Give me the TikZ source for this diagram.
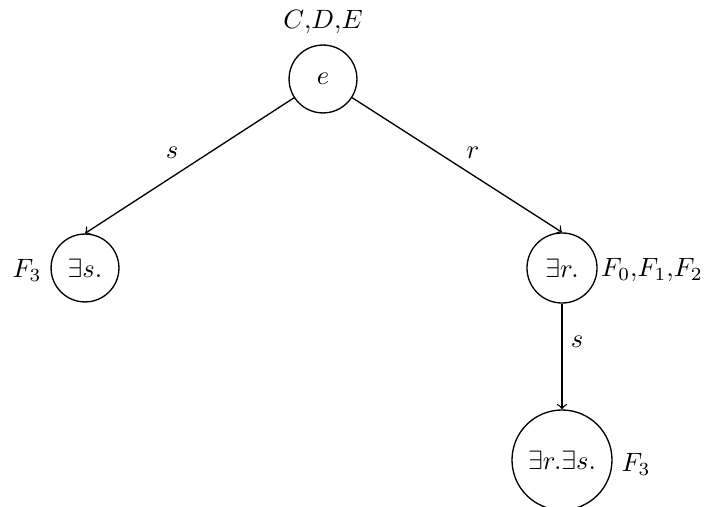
\documentclass[tikz,border=0pt]{standalone}
\usetikzlibrary{arrows}
\begin{document}
\begin{tikzpicture}[x=0.377pt, y=-0.377pt,
  world/.style={draw, circle, inner sep=0pt, line width=0.5pt},
  edge/.style={->, line width=0.5pt}]
  \useasboundingbox (0,0) rectangle (705,507);
  % worlds of the model
  \node[world, minimum size=25.6pt] (e)  at (323,79)  {$e$};
  \node[world, minimum size=25.6pt] (s)  at (85,268)  {$\exists s.$};
  \node[world, minimum size=26.4pt] (r)  at (562,268) {$\exists r.$};
  \node[world, minimum size=37.7pt] (rs) at (562,460) {$\exists r.\exists s.$};
  % concept labels
  \node (le)  at (323,22)  {$C{,}D{,}E$};
  \node (ls)  at (27,270)  {$F_3$};
  \node (lr)  at (652,270) {$F_0{,}F_1{,}F_2$};
  \node (lrs) at (636,464) {$F_3$};
  % role edges
  \draw[edge] (e) -- (s.north);
  \draw[edge] (e) -- (r.north);
  \draw[edge] (r) -- (rs);
  \node (es)  at (172,153) {$s$};
  \node (er)  at (473,153) {$r$};
  \node (ers) at (577,342) {$s$};
\end{tikzpicture}
\end{document}
